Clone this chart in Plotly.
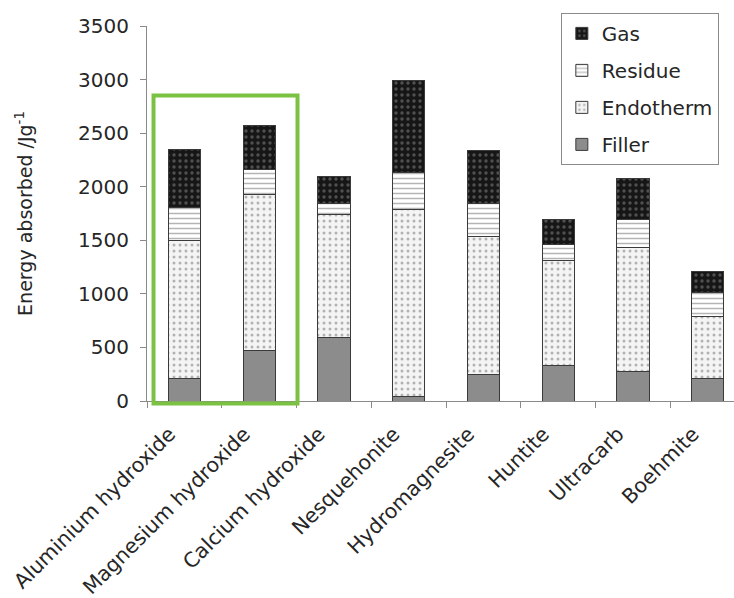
import plotly.graph_objects as go

# Energy absorbed by each mineral filler, split into its components (J/g)
minerals = ["Aluminium hydroxide", "Magnesium hydroxide", "Calcium hydroxide",
            "Nesquehonite", "Hydromagnesite", "Huntite", "Ultracarb", "Boehmite"]
filler = [210, 475, 595, 40, 245, 330, 275, 210]
endotherm = [1290, 1455, 1150, 1745, 1295, 980, 1155, 575]
residue = [310, 235, 100, 345, 305, 155, 265, 225]
gas = [540, 405, 255, 860, 495, 225, 385, 195]

y_ticks = [0, 500, 1000, 1500, 2000, 2500, 3000, 3500]

FONT = "DejaVu Sans, Arial, sans-serif"
TXT = "#262626"
OUTLINE = dict(color="#3a3a3a", width=1)
BAR_W = 0.43

fig = go.Figure()

fig.add_trace(go.Bar(
    x=minerals, y=filler, name="Filler", width=BAR_W,
    legendgroup="f", legendrank=4,
    marker=dict(color="#8c8c8c", line=OUTLINE),
))
fig.add_trace(go.Bar(
    x=minerals, y=endotherm, name="Endotherm", width=BAR_W,
    legendgroup="e", legendrank=3,
    marker=dict(color="#f2f2f2", line=OUTLINE,
                pattern=dict(shape=".", bgcolor="#f4f4f4", fgcolor="#707070",
                             size=6, solidity=0.2, fillmode="overlay")),
))
fig.add_trace(go.Bar(
    x=minerals, y=residue, name="Residue", width=BAR_W,
    legendgroup="r", legendrank=2,
    marker=dict(color="#ffffff", line=OUTLINE,
                pattern=dict(shape="-", bgcolor="#ffffff", fgcolor="#6a6a6a",
                             size=5, solidity=0.3, fillmode="overlay")),
))
fig.add_trace(go.Bar(
    x=minerals, y=gas, name="Gas", width=BAR_W,
    legendgroup="g", legendrank=1,
    marker=dict(color="#161616", line=OUTLINE,
                pattern=dict(shape=".", bgcolor="#161616", fgcolor="#8a8a8a",
                             size=6, solidity=0.25, fillmode="overlay")),
))

# Highlight box around the two metal hydroxides
fig.add_shape(type="rect", xref="paper", yref="paper",
              x0=0.0111, x1=0.2564, y0=-0.0067, y1=0.8147,
              line=dict(color="#7cc242", width=4), fillcolor="rgba(0,0,0,0)")

fig.update_layout(
    width=734, height=598,
    margin=dict(l=147, r=0, t=26, b=197),
    barmode="stack",
    plot_bgcolor="white", paper_bgcolor="white",
    font=dict(family=FONT, size=20, color=TXT),
    showlegend=True,
    legend=dict(
        x=0.705, y=1.035, xanchor="left", yanchor="top",
        traceorder="grouped", tracegroupgap=8,
        bordercolor="#8a8a8a", borderwidth=1, bgcolor="white",
        font=dict(family=FONT, size=20, color=TXT),
        itemwidth=30,
    ),
    xaxis=dict(
        range=[-0.5, 7.35],
        showline=True, linecolor="#8a8a8a", linewidth=1,
        ticks="outside", tickson="boundaries", ticklen=6, tickcolor="#8a8a8a",
        tickangle=-45, showgrid=False,
        ticklabelstandoff=12, ticklabelshift=-15,
        tickfont=dict(family=FONT, size=20.5, color=TXT),
    ),
    yaxis=dict(
        range=[0, 3500], tickvals=y_ticks,
        showline=True, linecolor="#8a8a8a", linewidth=1,
        ticks="outside", ticklen=6, tickcolor="#8a8a8a",
        ticklabelstandoff=7,
        showgrid=False, zeroline=False,
        tickfont=dict(family=FONT, size=20, color=TXT),
        title=dict(text="Energy absorbed /Jg<sup>-1</sup>", standoff=40,
                   font=dict(family=FONT, size=19, color=TXT)),
    ),
)

fig.write_html("out.html")
